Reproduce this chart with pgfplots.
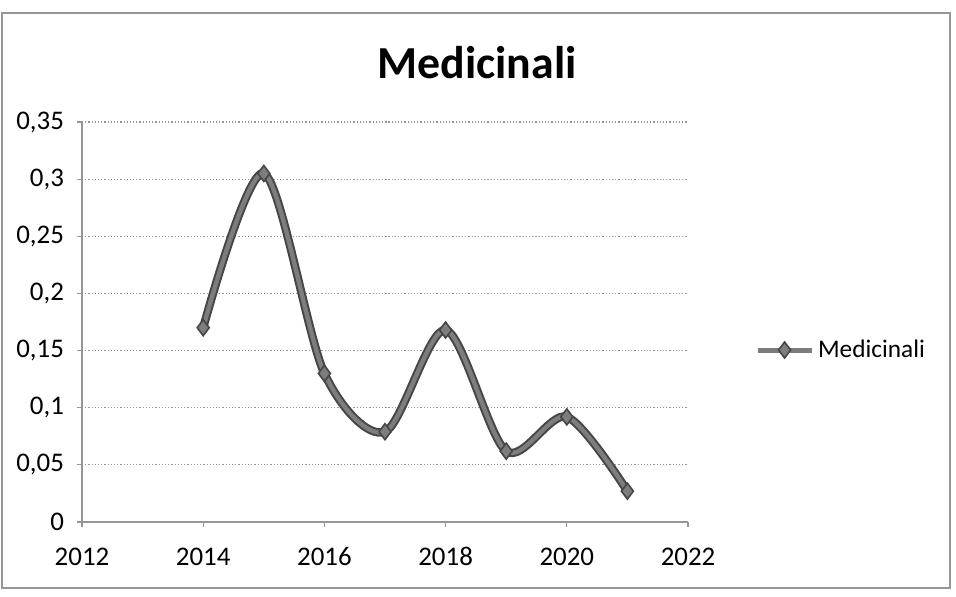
\documentclass[border=0pt]{standalone}
\usepackage{pgfplots}
\pgfplotsset{compat=1.18}
\usepackage{fontspec}
\setmainfont{Carlito}
\definecolor{lineDark}{RGB}{70,70,70}
\definecolor{lineMid}{RGB}{125,125,125}
\definecolor{gridc}{RGB}{150,150,150}
\begin{document}
\begin{tikzpicture}[x=1bp,y=1bp]
\useasboundingbox (0,0) rectangle (478,298);
\draw[gridc,line width=0.6bp] (1,4) rectangle (475,291.5);
\node[font=\bfseries\fontsize{23}{27}\selectfont] at (238.5,266.5) {Medicinali};
\begin{axis}[
  anchor=south west, at={(41bp,37bp)},
  width=303bp, height=200bp, scale only axis,
  xmin=2012, xmax=2022, ymin=0, ymax=0.35,
  xtick={2012,2014,...,2022},
  ytick={0,0.05,...,0.351},
  axis x line*=bottom, axis y line*=left,
  axis line style={gridc, line width=0.6bp},
  ymajorgrids, grid style={gridc, line width=0.6bp, densely dotted},
  tick style={gridc, line width=0.6bp},
  tick align=outside, major tick length=2.5bp,
  /pgf/number format/assume math mode=true,
  /pgf/number format/use comma,
  /pgf/number format/1000 sep={},
  tick label style={font=\fontsize{13.5}{16}\selectfont},
  yticklabel style={/pgf/number format/fixed, /pgf/number format/precision=2, xshift=-3bp},
  xticklabel style={anchor=base, yshift=-19bp},
  legend style={draw=none, fill=none, at={(1.11,0.43)}, anchor=west,
    font=\fontsize{12.7}{15}\selectfont, inner sep=0pt, row sep=0pt},
  legend cell align=left,
  legend image code/.code={
    \draw[lineMid, line width=2.5bp] (0bp,0bp) -- (27bp,0bp);
    \draw[lineDark, fill=lineMid, line width=0.8bp] plot[mark=diamond*, mark size=4bp] coordinates {(13.5bp,0bp)};
  },
]
\addplot[lineDark, line width=4.2bp, smooth, tension=0.5, forget plot] coordinates {
(2014,0.170) (2015,0.305) (2016,0.130) (2017,0.079) (2018,0.168) (2019,0.062) (2020,0.092) (2021,0.027)};
\addplot[lineMid, line width=2.2bp, smooth, tension=0.5, mark=diamond*, mark size=4bp,
  mark options={fill=lineMid, draw=lineDark, line width=0.8bp}] coordinates {
(2014,0.170) (2015,0.305) (2016,0.130) (2017,0.079) (2018,0.168) (2019,0.062) (2020,0.092) (2021,0.027)};
\addlegendentry{Medicinali}
\end{axis}
\end{tikzpicture}
\end{document}
